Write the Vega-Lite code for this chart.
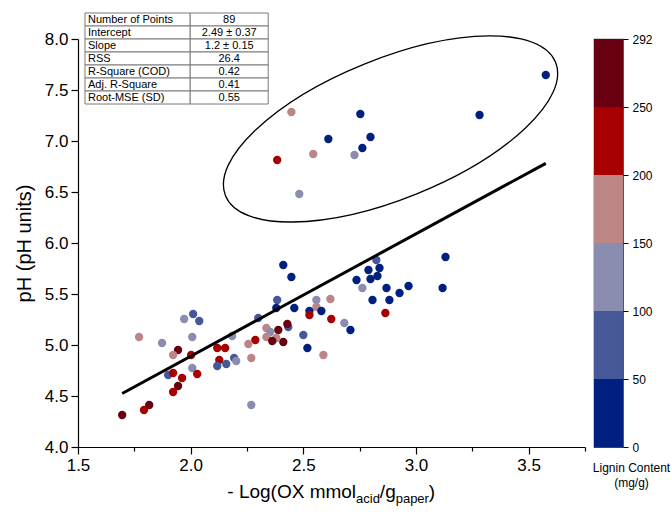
{
  "$schema": "https://vega.github.io/schema/vega-lite/v6.json",
  "padding": {"left": 14, "top": 12, "right": 2, "bottom": 5},
  "background": "white",
  "config": {
    "view": {"stroke": null},
    "font": "Liberation Sans",
    "axis": {"domainColor": "black", "tickColor": "black", "labelColor": "black", "titleColor": "black", "grid": false, "titleFontWeight": "normal", "labelFont": "Liberation Sans", "titleFont": "Liberation Sans"},
    "text": {"font": "Liberation Sans", "color": "black"}
  },
  "hconcat": [
    {
      "width": 507,
      "height": 408,
      "layer": [
        {
          "layer": [
            {
              "data": {"values": [
                {"x":3.576,"y":7.647,"lignin":25},{"x":3.282,"y":7.255,"lignin":25},{"x":2.753,"y":7.265,"lignin":25},
                {"x":2.798,"y":7.039,"lignin":25},{"x":2.762,"y":6.931,"lignin":25},{"x":2.611,"y":7.020,"lignin":25},
                {"x":2.447,"y":7.284,"lignin":175},{"x":2.544,"y":6.873,"lignin":175},{"x":2.727,"y":6.863,"lignin":125},
                {"x":2.384,"y":6.814,"lignin":225},{"x":2.482,"y":6.480,"lignin":125},
                {"x":3.131,"y":5.863,"lignin":25},{"x":3.118,"y":5.559,"lignin":25},{"x":2.824,"y":5.833,"lignin":75},
                {"x":2.789,"y":5.735,"lignin":25},{"x":2.838,"y":5.755,"lignin":25},{"x":2.829,"y":5.676,"lignin":25},
                {"x":2.798,"y":5.647,"lignin":25},{"x":2.736,"y":5.637,"lignin":25},{"x":2.762,"y":5.559,"lignin":125},
                {"x":2.869,"y":5.559,"lignin":25},{"x":2.967,"y":5.578,"lignin":25},{"x":2.927,"y":5.510,"lignin":25},
                {"x":2.882,"y":5.441,"lignin":25},{"x":2.807,"y":5.441,"lignin":25},{"x":2.864,"y":5.314,"lignin":225},
                {"x":2.682,"y":5.216,"lignin":125},{"x":2.709,"y":5.147,"lignin":25},{"x":2.620,"y":5.451,"lignin":175},
                {"x":2.558,"y":5.441,"lignin":125},{"x":2.558,"y":5.373,"lignin":175},{"x":2.527,"y":5.333,"lignin":25},
                {"x":2.580,"y":5.333,"lignin":25},{"x":2.527,"y":5.294,"lignin":225},{"x":2.624,"y":5.255,"lignin":225},
                {"x":2.500,"y":5.098,"lignin":75},{"x":2.518,"y":4.971,"lignin":25},{"x":2.589,"y":4.902,"lignin":175},
                {"x":2.411,"y":5.784,"lignin":25},{"x":2.447,"y":5.667,"lignin":25},{"x":2.460,"y":5.363,"lignin":25},
                {"x":2.433,"y":5.176,"lignin":75},{"x":2.429,"y":5.206,"lignin":270},{"x":2.411,"y":5.029,"lignin":270},
                {"x":2.384,"y":5.441,"lignin":75},{"x":2.380,"y":5.363,"lignin":25},{"x":2.300,"y":5.265,"lignin":75},
                {"x":2.336,"y":5.167,"lignin":175},{"x":2.353,"y":5.127,"lignin":125},{"x":2.389,"y":5.147,"lignin":270},
                {"x":2.380,"y":5.069,"lignin":175},{"x":2.336,"y":5.078,"lignin":175},{"x":2.362,"y":5.039,"lignin":270},
                {"x":2.287,"y":5.049,"lignin":225},{"x":2.256,"y":5.010,"lignin":175},{"x":2.269,"y":4.873,"lignin":175},
                {"x":2.184,"y":5.088,"lignin":125},{"x":2.118,"y":4.971,"lignin":225},{"x":2.153,"y":4.971,"lignin":225},
                {"x":2.127,"y":4.853,"lignin":225},{"x":2.193,"y":4.873,"lignin":75},{"x":2.202,"y":4.843,"lignin":125},
                {"x":2.118,"y":4.794,"lignin":75},{"x":2.158,"y":4.814,"lignin":75},{"x":2.269,"y":4.412,"lignin":125},
                {"x":2.011,"y":5.304,"lignin":75},{"x":2.038,"y":5.235,"lignin":75},{"x":1.971,"y":5.255,"lignin":125},
                {"x":2.007,"y":5.078,"lignin":125},{"x":1.873,"y":5.020,"lignin":125},{"x":1.771,"y":5.078,"lignin":175},
                {"x":1.944,"y":4.951,"lignin":270},{"x":1.922,"y":4.902,"lignin":175},{"x":2.002,"y":4.902,"lignin":225},
                {"x":2.007,"y":4.775,"lignin":125},{"x":1.900,"y":4.706,"lignin":75},{"x":1.922,"y":4.725,"lignin":225},
                {"x":1.962,"y":4.676,"lignin":225},{"x":2.029,"y":4.716,"lignin":225},{"x":1.944,"y":4.598,"lignin":270},
                {"x":1.922,"y":4.539,"lignin":225},{"x":1.816,"y":4.412,"lignin":270},{"x":1.793,"y":4.363,"lignin":225},
                {"x":1.696,"y":4.314,"lignin":270}
              ]},
              "mark": {"type": "circle", "size": 70, "opacity": 1},
              "encoding": {
                "x": {"field": "x", "type": "quantitative",
                  "scale": {"domain": [1.5, 3.75], "nice": false, "zero": false},
                  "axis": {"title": null, "values": [1.5,1.75,2,2.25,2.5,2.75,3,3.25,3.5,3.75],
                    "labelExpr": "datum.value % 0.5 === 0 ? format(datum.value, '.1f') : ''",
                    "tickSize": {"condition": {"test": "datum.value % 0.5 !== 0", "value": 4}, "value": 7},
                    "labelFontSize": 17, "labelPadding": 3, "labelOverlap": false, "labelFlush": false,
                    "domainWidth": 1.2, "tickWidth": 1.2}},
                "y": {"field": "y", "type": "quantitative",
                  "scale": {"domain": [4, 8], "nice": false, "zero": false},
                  "axis": {"title": "pH (pH units)", "titleFontSize": 20, "titlePadding": 10,
                    "values": [4,4.25,4.5,4.75,5,5.25,5.5,5.75,6,6.25,6.5,6.75,7,7.25,7.5,7.75,8],
                    "labelExpr": "datum.value % 0.5 === 0 ? format(datum.value, '.1f') : ''",
                    "tickSize": {"condition": {"test": "datum.value % 0.5 !== 0", "value": 4}, "value": 7},
                    "labelFontSize": 17, "labelPadding": 3, "labelOverlap": false, "labelFlush": false,
                    "domainWidth": 1.2, "tickWidth": 1.2}},
                "color": {"field": "lignin", "type": "quantitative",
                  "scale": {"type": "threshold", "domain": [50, 100, 150, 200, 250],
                    "range": ["#00207f", "#475899", "#8a8db0", "#bd8686", "#a60000", "#690012"]},
                  "legend": null}
              }
            },
            {
              "data": {"values": [{"x": 1.696, "y": 4.525}, {"x": 3.576, "y": 6.781}]},
              "mark": {"type": "line", "color": "black", "strokeWidth": 3},
              "encoding": {
                "x": {"field": "x", "type": "quantitative"},
                "y": {"field": "y", "type": "quantitative"}
              }
            },
            {
              "data": {"values": [{"group": "outliers"}]},
              "mark": {"type": "point", "filled": false, "stroke": "black", "strokeWidth": 1.3, "opacity": 1,
                "size": 126736,
                "shape": "M-0.9272,0.3746 A1,0.3933,-22,0,1,0.9272,-0.3746 A1,0.3933,-22,0,1,-0.9272,0.3746 Z"},
              "encoding": {
                "x": {"datum": 2.887},
                "y": {"datum": 7.118}
              }
            },
            {
              "data": {"values": [{}]},
              "mark": {"type": "text", "text": "- Log(OX mmol", "align": "left", "baseline": "alphabetic", "fontSize": 19, "dx": -104},
              "encoding": {"x": {"datum": 2.624}, "y": {"datum": 3.5}}
            },
            {
              "data": {"values": [{}]},
              "mark": {"type": "text", "text": "acid", "align": "left", "baseline": "alphabetic", "fontSize": 13, "dx": 24.8, "dy": 5},
              "encoding": {"x": {"datum": 2.624}, "y": {"datum": 3.5}}
            },
            {
              "data": {"values": [{}]},
              "mark": {"type": "text", "text": "/g", "align": "left", "baseline": "alphabetic", "fontSize": 19, "dx": 48.6},
              "encoding": {"x": {"datum": 2.624}, "y": {"datum": 3.5}}
            },
            {
              "data": {"values": [{}]},
              "mark": {"type": "text", "text": "paper", "align": "left", "baseline": "alphabetic", "fontSize": 13, "dx": 64.4, "dy": 5},
              "encoding": {"x": {"datum": 2.624}, "y": {"datum": 3.5}}
            },
            {
              "data": {"values": [{}]},
              "mark": {"type": "text", "text": ")", "align": "left", "baseline": "alphabetic", "fontSize": 19, "dx": 97.6},
              "encoding": {"x": {"datum": 2.624}, "y": {"datum": 3.5}}
            }
          ]
        },
        {
          "data": {"values": [
            {"label": "Number of Points", "value": "89"},
            {"label": "Intercept", "value": "2.49 ± 0.37"},
            {"label": "Slope", "value": "1.2 ± 0.15"},
            {"label": "RSS", "value": "26.4"},
            {"label": "R-Square (COD)", "value": "0.42"},
            {"label": "Adj. R-Square", "value": "0.41"},
            {"label": "Root-MSE (SD)", "value": "0.55"}
          ]},
          "encoding": {
            "y": {"field": "label", "type": "nominal", "sort": null,
              "scale": {"range": [-26, 65], "paddingInner": 0, "paddingOuter": 0}, "axis": null}
          },
          "layer": [
            {"mark": {"type": "rect", "fill": "white", "stroke": "#7a7a7a", "strokeWidth": 1},
             "encoding": {"x": {"datum": 1.531}, "x2": {"datum": 1.998}}},
            {"mark": {"type": "rect", "fill": "white", "stroke": "#7a7a7a", "strokeWidth": 1},
             "encoding": {"x": {"datum": 1.998}, "x2": {"datum": 2.344}}},
            {"mark": {"type": "text", "align": "left", "baseline": "middle", "dx": 3, "fontSize": 11},
             "encoding": {"x": {"datum": 1.531}, "text": {"field": "label"}}},
            {"mark": {"type": "text", "align": "center", "baseline": "middle", "fontSize": 11},
             "encoding": {"x": {"datum": 2.171}, "text": {"field": "value"},
               "fontWeight": {"condition": {"test": "datum.label === 'Number of Points' || datum.label === 'Adj. R-Square'", "value": "bold"}, "value": "normal"}}}
          ]
        }
      ],
      "resolve": {"scale": {"y": "independent"}}
    },
    {
      "width": 29,
      "height": 408,
      "view": {"stroke": "#444444", "strokeWidth": 1.2},
      "data": {"values": [
        {"from": 0, "to": 50}, {"from": 50, "to": 100}, {"from": 100, "to": 150},
        {"from": 150, "to": 200}, {"from": 200, "to": 250}, {"from": 250, "to": 292}
      ]},
      "title": {"text": ["Lignin Content", "(mg/g)"], "orient": "bottom", "anchor": "middle", "fontSize": 12, "fontWeight": "normal", "lineHeight": 15, "offset": 10, "dx": 23, "font": "Liberation Sans", "color": "black"},
      "layer": [
        {
          "mark": {"type": "rect"},
          "encoding": {
            "x": {"datum": 0, "type": "quantitative", "scale": {"domain": [0, 1], "nice": false}, "axis": null},
            "x2": {"datum": 1},
            "y": {"field": "from", "type": "ordinal", "sort": "descending",
              "scale": {"paddingInner": 0, "paddingOuter": 0},
              "axis": {"orient": "right", "title": null, "tickOffset": 34, "tickSize": 5, "labelFontSize": 12, "labelPadding": 4, "domain": false, "labelAngle": 0}},
            "color": {"field": "from", "type": "quantitative",
              "scale": {"type": "threshold", "domain": [50, 100, 150, 200, 250],
                "range": ["#00207f", "#475899", "#8a8db0", "#bd8686", "#a60000", "#690012"]},
              "legend": null}
          }
        },
        {
          "mark": {"type": "rect", "fill": null, "stroke": "#555555", "strokeWidth": 1},
          "encoding": {
            "x": {"datum": 0, "type": "quantitative", "axis": null},
            "x2": {"datum": 1},
            "y": {"field": "from", "type": "ordinal", "sort": "descending",
              "axis": {"orient": "right", "title": null, "values": [250], "tickOffset": -34, "labelExpr": "'292'", "tickSize": 5, "labelFontSize": 12, "labelPadding": 4, "domain": false, "labelAngle": 0}},
            "strokeOpacity": {"value": 0}
          }
        }
      ],
      "resolve": {"axis": {"y": "independent"}}
    }
  ],
  "spacing": 9,
  "bounds": "flush"
}
